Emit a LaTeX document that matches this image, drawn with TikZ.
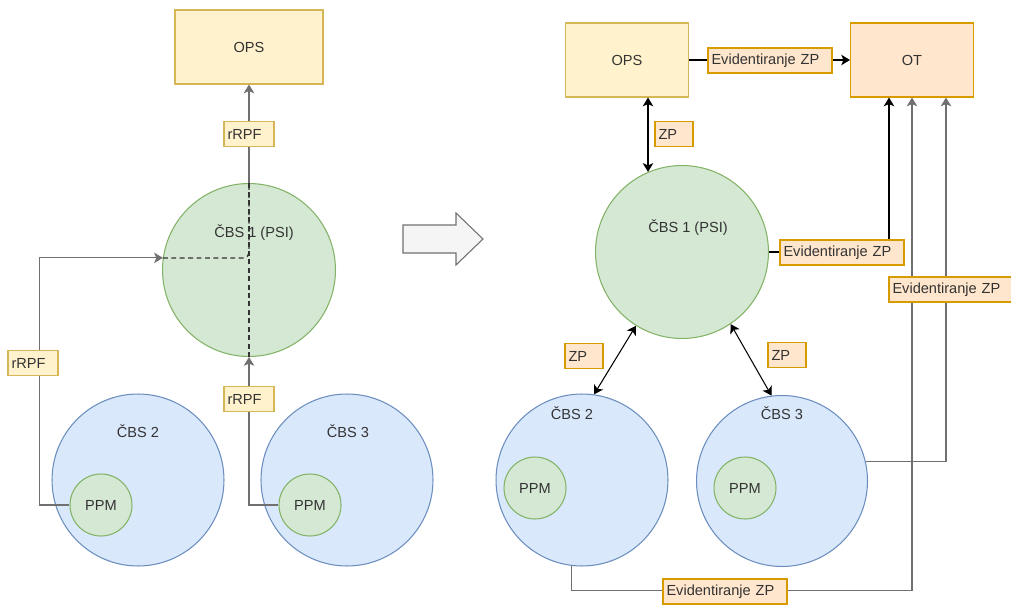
\documentclass[tikz,border=0pt]{standalone}
\usepackage{fontspec}
\setmainfont{Liberation Sans}
\usepackage{tikz}
\usetikzlibrary{arrows.meta}

\definecolor{yelfill}{HTML}{FFF2CC}
\definecolor{yeldraw}{HTML}{D6B656}
\definecolor{orfill}{HTML}{FFE6CC}
\definecolor{ordraw}{HTML}{D79B00}
\definecolor{grfill}{HTML}{D5E8D4}
\definecolor{grdraw}{HTML}{82B366}
\definecolor{blfill}{HTML}{DAE8FC}
\definecolor{bldraw}{HTML}{6C8EBF}
\definecolor{txtcol}{HTML}{333333}
\definecolor{lncol}{HTML}{707070}
\definecolor{arrfill}{HTML}{F5F5F5}

\tikzset{
	every node/.style={font=\fontsize{8.3}{10}\selectfont, text=txtcol},
	ysq/.style={rectangle, draw=yeldraw, fill=yelfill, line width=0.6pt, minimum height=1.48cm},
	osq/.style={rectangle, draw=ordraw, fill=orfill, line width=0.6pt, minimum height=1.48cm},
	gcirc/.style={circle, draw=grdraw, fill=grfill, line width=0.6pt, inner sep=0pt},
	bcirc/.style={circle, draw=bldraw, fill=blfill, line width=0.6pt, inner sep=0pt},
	ylab/.style={draw=yeldraw, fill=yelfill, line width=0.6pt, inner xsep=2pt, inner ysep=0pt,
		minimum height=0.5cm, text width=#1, align=left},
	olab/.style={draw=ordraw, fill=orfill, line width=0.6pt, inner xsep=2pt, inner ysep=0pt,
		minimum height=0.5cm, text width=#1, align=left},
	conn/.style={line width=0.6pt, -{Stealth[length=5pt, width=6pt, inset=1.3pt]}},
	biconn/.style={line width=0.6pt, {Stealth[length=5pt, width=6pt, inset=1.3pt]}-{Stealth[length=5pt, width=6pt, inset=1.3pt]}},
	dashline/.style={black!80, line width=0.7pt, dash pattern=on 2.8pt off 2pt}
}

\begin{document}
\begin{tikzpicture}[x=0.02cm, y=-0.02cm]
	\useasboundingbox (0, 0) rectangle (1011, 608);

	% Left side: before
	\node[ysq, minimum width=2.96cm] (lops) at (249, 47) {OPS};
	\node[gcirc, minimum size=3.46cm] (lcbs1) at (249, 270) {};
	\node (lcbs1txt) at (254, 233) {ČBS 1 (PSI)};
	\node[bcirc, minimum size=3.44cm] (lcbs2) at (138, 480) {};
	\node (lcbs2txt) at (138, 431) {ČBS 2};
	\node[bcirc, minimum size=3.44cm] (lcbs3) at (347, 480) {};
	\node (lcbs3txt) at (348, 431) {ČBS 3};
	\node[gcirc, minimum size=1.24cm] (lppm2) at (101, 505) {PPM};
	\node[gcirc, minimum size=1.24cm] (lppm3) at (310, 505) {PPM};

	% rRPF flow up to OPS
	\draw[conn, lncol] (lppm3.west) -| (lcbs1.south);
	\draw[conn, lncol] (lppm2.west) -- ++(-30, 0) |- (lcbs1.172);
	\draw[dashline] (lcbs1.south) -- (lcbs1.north);
	\draw[dashline, rounded corners=3pt] (lcbs1.172) -| (lcbs1.north);
	\draw[conn, lncol] (lcbs1.north) -- (lops.south);
	\node[ylab=0.86cm] (lrpf1) at (249, 134) {rRPF};
	\node[ylab=0.86cm] (lrpf2) at (33, 363) {rRPF};
	\node[ylab=0.86cm] (lrpf3) at (249, 399) {rRPF};

	% Transition arrow
	\draw[draw=lncol, fill=arrfill, line width=0.6pt] (403, 225) -- (456, 225) -- (456, 213) -- (483, 239)
		-- (456, 265) -- (456, 253) -- (403, 253) -- cycle;

	% Right side: after
	\node[ysq, minimum width=2.46cm] (rops) at (627, 60) {OPS};
	\node[osq, minimum width=2.46cm] (rot) at (912, 60) {OT};
	\node[gcirc, minimum size=3.46cm] (rcbs1) at (682, 252) {};
	\node (rcbs1txt) at (688, 228) {ČBS 1 (PSI)};
	\node[bcirc, minimum size=3.44cm] (rcbs2) at (582, 480) {};
	\node (rcbs2txt) at (572, 413) {ČBS 2};
	\node[bcirc, minimum size=3.42cm] (rcbs3) at (782, 481) {};
	\node (rcbs3txt) at (782, 413) {ČBS 3};
	\node[gcirc, minimum size=1.24cm] (rppm2) at (535, 488) {PPM};
	\node[gcirc, minimum size=1.24cm] (rppm3) at (745, 488) {PPM};

	\coordinate (otin1) at ([xshift=-0.46cm]rot.south);
	\coordinate (otin2) at (rot.south);
	\coordinate (otin3) at ([xshift=0.68cm]rot.south);

	% ZP exchange and records to OT
	\draw[conn] (rops.east) -- (rot.west);
	\draw[biconn] (rcbs1.113 |- rops.south) -- (rcbs1.113);
	\draw[biconn] (rcbs1.238) -- (rcbs2.82);
	\draw[biconn] (rcbs1.304) -- (rcbs3.97);
	\draw[conn] (rcbs1.east) -| (otin1);
	\draw[conn, lncol] (rcbs3.13) -| (otin3);
	\draw[conn, lncol] (rcbs2.263) -- ++(0, 25) -| (otin2);

	\node[olab=2.34cm] (evops) at (770, 60.5) {Evidentiranje ZP};
	\node[olab=0.62cm] (zp1) at (674, 134) {ZP};
	\node[olab=0.62cm] (zp2) at (584, 356) {ZP};
	\node[olab=0.62cm] (zp3) at (787, 355) {ZP};
	\node[olab=2.34cm] (evcbs1) at (842, 252.5) {Evidentiranje ZP};
	\node[olab=2.34cm] (evcbs3) at (951, 289.5) {Evidentiranje ZP};
	\node[olab=2.34cm] (evcbs2) at (725, 591.5) {Evidentiranje ZP};
\end{tikzpicture}
\end{document}
